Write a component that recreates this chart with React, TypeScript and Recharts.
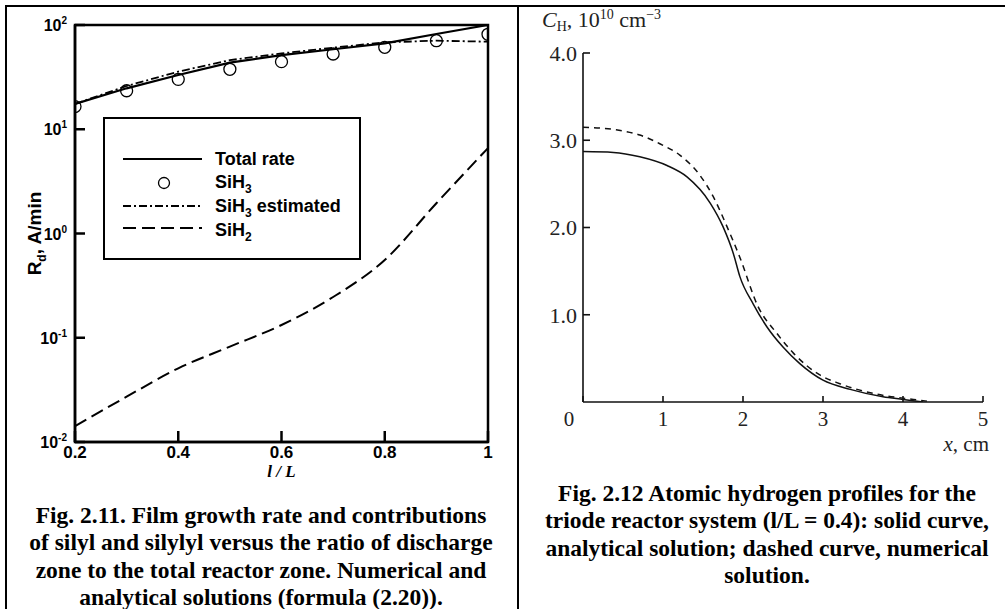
import React from "react"
import { ComposedChart, LineChart, Line, XAxis, YAxis, ReferenceArea, Legend } from "recharts"

// Fig. 2.11 — deposition rate vs l/L
const ratio = [0.2, 0.3, 0.4, 0.5, 0.6, 0.7, 0.8, 0.9, 1.0]
const totalRate = [17.5, 24.7, 33.1, 43.5, 51.5, 58.5, 66.7, 82, 100]
const sih3 = [16.5, 23.4, 30.1, 37.6, 44.5, 52.7, 61.1, 70.7, 81.4]
const sih3Estimated = [17.5, 26, 35.7, 46, 53.4, 60.6, 68.2, 70.7, 69.2]
const sih2 = [0.0142, 0.0272, 0.0509, 0.0822, 0.1325, 0.246, 0.557, 1.95, 6.6]
const ratioTicks = [0.2, 0.4, 0.6, 0.8, 1]
const rateTicks = [0.01, 0.1, 1, 10, 100]

// Fig. 2.12 — atomic hydrogen profiles
const xAnalytical = [0, 0.38, 0.71, 1.05, 1.3, 1.59, 1.75, 1.88, 1.96, 2.13, 2.3, 2.5, 2.71, 3.0, 3.34, 3.75, 4.0, 4.25]
const cAnalytical = [2.87, 2.86, 2.81, 2.71, 2.58, 2.28, 2.01, 1.7, 1.44, 1.12, 0.86, 0.63, 0.44, 0.25, 0.145, 0.06, 0.03, 0.0]
const xNumerical = [0, 0.41, 0.71, 0.96, 1.21, 1.46, 1.63, 1.8, 1.96, 2.19, 2.42, 2.63, 2.96, 3.21, 3.67, 4.13, 4.3]
const cNumerical = [3.15, 3.12, 3.06, 2.96, 2.83, 2.6, 2.35, 2.01, 1.66, 1.09, 0.79, 0.56, 0.31, 0.21, 0.09, 0.03, 0.01]
const xTicks = [0, 1, 2, 3, 4, 5]
const cTicks = [1, 2, 3, 4]

const leftCaption = [
  "Fig. 2.11. Film growth rate and contributions",
  "of silyl and silylyl versus the ratio of discharge",
  "zone to the total reactor zone. Numerical and",
  "analytical solutions (formula (2.20)).",
]
const rightCaption = [
  "Fig. 2.12 Atomic hydrogen profiles for the",
  "triode reactor system (l/L = 0.4): solid curve,",
  "analytical solution; dashed curve, numerical",
  "solution.",
]

const rateData = ratio.map((r, i) => ({
  r,
  total: totalRate[i],
  sih3: sih3[i],
  est: sih3Estimated[i],
  sih2: sih2[i],
}))
const analytical = xAnalytical.map((x, i) => ({ x, c: cAnalytical[i] }))
const numerical = xNumerical.map((x, i) => ({ x, c: cNumerical[i] }))

const sans = '"Liberation Sans", Arial, sans-serif'
const serif = '"Liberation Serif", "Times New Roman", serif'

function PowerTick({ x, y, payload }: any) {
  const exp = Math.round(Math.log10(payload.value))
  return (
    <text x={x} y={y} dy={6} textAnchor="end" fontFamily={sans} fontWeight="bold" fontSize={16} fill="#000">
      10<tspan dy={-7} fontSize={10}>{exp}</tspan>
    </text>
  )
}

function RateLegend() {
  const txt = { fontFamily: sans, fontWeight: "bold" as const, fontSize: 18, fill: "#000" }
  return (
    <svg width={258} height={143} style={{ display: "block" }}>
      <rect x={1} y={1} width={256} height={141} fill="#fff" stroke="#000" strokeWidth={2} />
      <line x1={20} x2={99} y1={42} y2={42} stroke="#000" strokeWidth={2} />
      <text x={112} y={48} {...txt}>Total rate</text>
      <circle cx={61} cy={66} r={5.5} fill="none" stroke="#000" strokeWidth={1.3} />
      <text x={112} y={71} {...txt}>
        SiH<tspan dy={5} fontSize={12}>3</tspan>
      </text>
      <line x1={20} x2={99} y1={89} y2={89} stroke="#000" strokeWidth={1.8} strokeDasharray="8 3 2 3" />
      <text x={112} y={95} {...txt}>
        SiH<tspan dy={5} fontSize={12}>3</tspan>
        <tspan dy={-5}> estimated</tspan>
      </text>
      <line x1={20} x2={99} y1={111} y2={111} stroke="#000" strokeWidth={2} strokeDasharray="13 6" />
      <text x={112} y={119} {...txt}>
        SiH<tspan dy={5} fontSize={12}>2</tspan>
      </text>
    </svg>
  )
}

function RateAxisTitle({ viewBox }: any) {
  const cx = viewBox.x + 26
  const cy = viewBox.y + viewBox.height / 2
  return (
    <text transform={`translate(${cx},${cy}) rotate(-90)`} textAnchor="middle" fontFamily={sans} fontWeight="bold" fontSize={19} fill="#000">
      R<tspan dy={5} fontSize={12}>d</tspan>
      <tspan dy={-5}>, A/min</tspan>
    </text>
  )
}

function RatioAxisTitle({ viewBox }: any) {
  return (
    <text x={viewBox.x + viewBox.width / 2} y={viewBox.y + 35} textAnchor="middle" fontFamily={serif} fontStyle="italic" fontWeight="bold" fontSize={17} fill="#000">
      l / L
    </text>
  )
}

function ConcAxisTitle({ viewBox }: any) {
  return (
    <text x={viewBox.x + 9} y={viewBox.y - 26} fontFamily={serif} fontSize={22} fill="#222">
      <tspan fontStyle="italic">C</tspan>
      <tspan dy={4} fontSize={14}>H</tspan>
      <tspan dy={-4}>, 10</tspan>
      <tspan dy={-8} fontSize={14}>10</tspan>
      <tspan dy={8}> cm</tspan>
      <tspan dy={-8} fontSize={14}>−3</tspan>
    </text>
  )
}

function PosAxisTitle({ viewBox }: any) {
  return (
    <text x={viewBox.x + viewBox.width + 6} y={viewBox.y + 49} textAnchor="end" fontFamily={serif} fontSize={21} fill="#222">
      <tspan fontStyle="italic">x</tspan>, cm
    </text>
  )
}

function PosTick({ x, y, payload }: any) {
  const shift = payload.value === 0 ? -14 : 0
  return (
    <text x={x + shift} y={y} dy="0.71em" textAnchor="middle" fontFamily={serif} fontSize={21} fill="#222">
      {payload.value}
    </text>
  )
}

const captionStyle: React.CSSProperties = {
  position: "absolute",
  width: 500,
  fontFamily: serif,
  fontWeight: "bold",
  fontSize: 23.5,
  lineHeight: "27.3px",
  textAlign: "center",
  whiteSpace: "nowrap",
  color: "#000",
}

export default function App() {
  return (
    <div style={{ position: "absolute", left: 0, top: 0, width: 1005, height: 609, background: "#fff", overflow: "hidden" }}>
      <div style={{ position: "absolute", left: 5, top: 5, width: 1000, height: 2, background: "#000" }} />
      <div style={{ position: "absolute", left: 5, top: 5, width: 2, height: 604, background: "#000" }} />
      <div style={{ position: "absolute", left: 517, top: 5, width: 2, height: 604, background: "#000" }} />

      <div style={{ position: "absolute", left: 0, top: 0 }}>
        <ComposedChart width={517} height={480} data={rateData} margin={{ top: 25, right: 29, left: 15, bottom: 8 }}>
          <XAxis
            dataKey="r"
            type="number"
            domain={[0.2, 1]}
            ticks={ratioTicks}
            allowDataOverflow
            height={30}
            tickFormatter={(v: number) => (v === 1 ? "1" : v.toFixed(1))}
            axisLine={{ stroke: "#000", strokeWidth: 2.5 }}
            tickLine={{ stroke: "#000", strokeWidth: 2.5 }}
            tickSize={-11}
            tickMargin={15}
            tick={{ fill: "#000", fontSize: 17, fontWeight: "bold", fontFamily: sans }}
            label={(props: any) => <RatioAxisTitle {...props} />}
          />
          <YAxis
            type="number"
            scale="log"
            domain={[0.01, 100]}
            ticks={rateTicks}
            allowDataOverflow
            width={60}
            axisLine={{ stroke: "#000", strokeWidth: 2.5 }}
            tickLine={{ stroke: "#000", strokeWidth: 2.5 }}
            tickSize={-10}
            tickMargin={18}
            tick={<PowerTick />}
            label={(props: any) => <RateAxisTitle {...props} />}
          />
          <ReferenceArea x1={0.2} x2={1} y1={0.01} y2={100} fill="none" stroke="#000" strokeWidth={2.5} />
          <Line dataKey="est" stroke="#000" strokeWidth={1.8} strokeDasharray="8 3 2 3" dot={false} isAnimationActive={false} />
          <Line dataKey="total" stroke="#000" strokeWidth={2.2} dot={false} isAnimationActive={false} />
          <Line
            dataKey="sih3"
            stroke="none"
            dot={{ r: 6, fill: "none", stroke: "#000", strokeWidth: 1.3 }}
            isAnimationActive={false}
          />
          <Line type="monotone" dataKey="sih2" stroke="#000" strokeWidth={2} strokeDasharray="13 6" dot={false} isAnimationActive={false} />
          <Legend
            layout="horizontal"
            verticalAlign="middle"
            align="center"
            content={<RateLegend />}
            wrapperStyle={{ left: 103, top: 117, width: 258, height: 143 }}
          />
        </ComposedChart>
      </div>

      <div style={{ position: "absolute", left: 517, top: 0 }}>
        <LineChart width={488} height={470} margin={{ top: 53, right: 22, left: 16, bottom: 18 }}>
          <XAxis
            dataKey="x"
            type="number"
            domain={[0, 5]}
            ticks={xTicks}
            allowDataOverflow
            height={50}
            axisLine={{ stroke: "#111", strokeWidth: 1.6 }}
            tickLine={{ stroke: "#111", strokeWidth: 1.6 }}
            tickSize={-6}
            tickMargin={15}
            tick={<PosTick />}
            label={(props: any) => <PosAxisTitle {...props} />}
          />
          <YAxis
            type="number"
            domain={[0, 4]}
            ticks={cTicks}
            allowDataOverflow
            width={50}
            axisLine={{ stroke: "#111", strokeWidth: 1.6 }}
            tickLine={{ stroke: "#111", strokeWidth: 1.6 }}
            tickSize={-7}
            tickMargin={13}
            tickFormatter={(v: number) => v.toFixed(1)}
            tick={{ fill: "#222", fontSize: 22, fontFamily: serif }}
            label={(props: any) => <ConcAxisTitle {...props} />}
          />
          <Line data={numerical} type="monotone" dataKey="c" stroke="#111" strokeWidth={1.5} strokeDasharray="6 5" dot={false} isAnimationActive={false} />
          <Line data={analytical} type="monotone" dataKey="c" stroke="#111" strokeWidth={1.5} dot={false} isAnimationActive={false} />
        </LineChart>
      </div>

      <div style={{ ...captionStyle, left: 11, top: 502 }}>
        {leftCaption.map((line) => (
          <div key={line}>{line}</div>
        ))}
      </div>
      <div style={{ ...captionStyle, left: 517, top: 480 }}>
        {rightCaption.map((line) => (
          <div key={line}>{line}</div>
        ))}
      </div>
    </div>
  )
}
